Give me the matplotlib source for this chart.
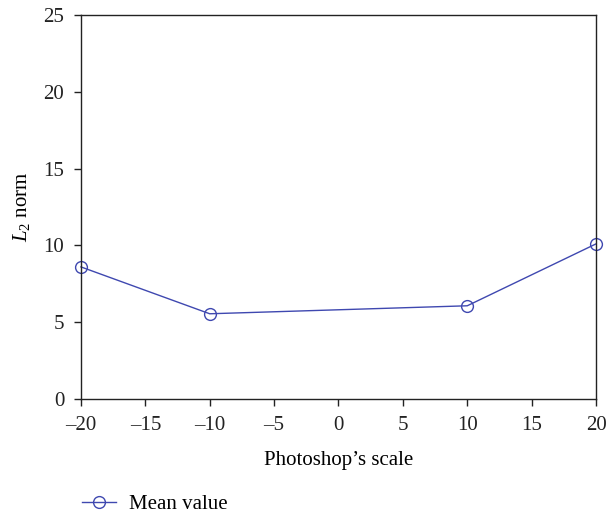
import matplotlib
matplotlib.use("Agg")
import matplotlib.pyplot as plt
from matplotlib.ticker import FuncFormatter

# Data
scale = [-20, -10, 10, 20]
mean_value = [8.6, 5.55, 6.07, 10.1]
x_ticks = [-20, -15, -10, -5, 0, 5, 10, 15, 20]
y_ticks = [0, 5, 10, 15, 20, 25]

LINE_COLOR = "#3f48b0"

plt.rcParams["font.family"] = ["Liberation Serif", "DejaVu Serif"]
plt.rcParams["font.size"] = 15
plt.rcParams["mathtext.fontset"] = "custom"
plt.rcParams["mathtext.rm"] = "Liberation Serif"
plt.rcParams["mathtext.it"] = "Liberation Serif:italic"

fig = plt.figure(figsize=(6.07, 5.18), dpi=100)
ax = fig.add_axes([0.1334, 0.2297, 0.8485, 0.7413])

ax.plot(scale, mean_value, color=LINE_COLOR, lw=1.0, marker="o", ms=8.5,
        mfc="none", mec=LINE_COLOR, mew=1.0, label="Mean value", clip_on=False)

ax.set_xlim(-20, 20)
ax.set_ylim(0, 25)
ax.set_xticks(x_ticks)
ax.set_yticks(y_ticks)

# en dash minus signs like the original
fmt = FuncFormatter(lambda v, p: f"{v:g}".replace("-", "\u2013"))
ax.xaxis.set_major_formatter(fmt)
ax.yaxis.set_major_formatter(fmt)

ax.tick_params(direction="out", length=5, width=1, colors="#222222", pad=7)
for s in ax.spines.values():
    s.set_linewidth(1.0)
    s.set_color("#222222")

ax.set_xlabel("Photoshop\u2019s scale", labelpad=12)
ax.set_ylabel(r"$L_2$ norm", labelpad=8)

ax.legend(loc="upper left", bbox_to_anchor=(-0.015, -0.228), frameon=False,
          handlelength=1.65, handletextpad=0.63, borderaxespad=0)

fig.savefig("out.png", dpi=100)
